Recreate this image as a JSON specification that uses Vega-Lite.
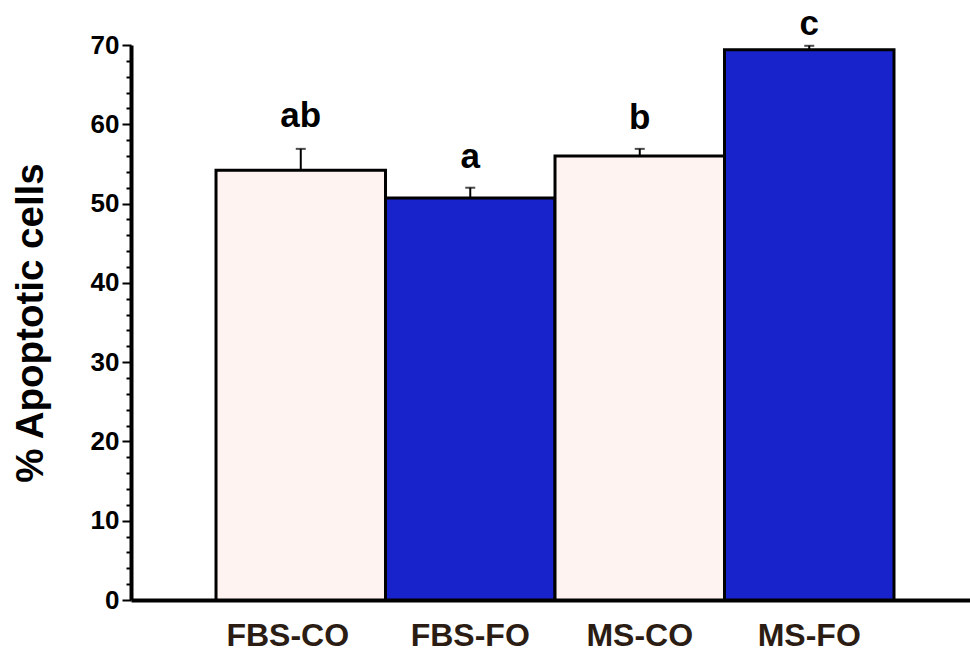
{
  "$schema": "https://vega.github.io/schema/vega-lite/v6.json",
  "autosize": "none",
  "padding": {"left": 131, "top": 45, "right": 0, "bottom": 52},
  "width": 839,
  "height": 555,
  "background": "white",
  "config": {"view": {"stroke": null}, "font": "Liberation Sans"},
  "data": {"values": [
    {"group": "FBS-CO", "value": 54.2, "err": 56.9, "sig": "ab", "sig_at": 59.6, "oil": "CO"},
    {"group": "FBS-FO", "value": 50.7, "err": 52.0, "sig": "a", "sig_at": 54.5, "oil": "FO"},
    {"group": "MS-CO", "value": 56.0, "err": 56.9, "sig": "b", "sig_at": 59.4, "oil": "CO"},
    {"group": "MS-FO", "value": 69.4, "err": 69.9, "sig": "c", "sig_at": 71.2, "oil": "FO"}
  ]},
  "encoding": {
    "x": {
      "field": "group", "type": "nominal", "sort": null,
      "scale": {"paddingInner": 0, "paddingOuter": 0.475, "align": 0.528},
      "axis": {
        "title": null, "labelAngle": 0, "ticks": false,
        "domainWidth": 4, "domainColor": "black",
        "labelFont": "Liberation Sans", "labelFontWeight": "bold", "labelFontSize": 32,
        "labelColor": "#2b1d14", "labelPadding": 20,
        "labelOffset": {"condition": {"test": "datum.value === 'FBS-CO'", "value": -13}, "value": 0}
      }
    },
    "y": {
      "field": "value", "type": "quantitative",
      "scale": {"domain": [0, 70], "nice": false},
      "axis": {
        "tickCount": 35,
        "labelExpr": "datum.value % 10 === 0 ? datum.label : ''",
        "labelOverlap": false,
        "labelBound": false,
        "labelFlush": false,
        "tickSize": {"condition": {"test": "datum.value % 10 === 0", "value": 9}, "value": 5},
        "tickWidth": 2, "tickColor": "black",
        "domainWidth": 4, "domainColor": "black",
        "grid": false,
        "labelFont": "Liberation Sans", "labelFontWeight": "bold", "labelFontSize": 26,
        "labelColor": "black", "labelPadding": 3,
        "title": "% Apoptotic cells",
        "titleFont": "Liberation Sans", "titleFontWeight": "bold", "titleFontSize": 38.5,
        "titleColor": "black", "titlePadding": 40
      }
    }
  },
  "layer": [
    {
      "mark": {"type": "bar", "stroke": "black", "strokeWidth": 3},
      "encoding": {
        "fill": {
          "field": "oil", "type": "nominal",
          "scale": {"domain": ["CO", "FO"], "range": ["#fff3f1", "#1923cb"]},
          "legend": null
        }
      }
    },
    {
      "mark": {"type": "rule", "color": "black", "strokeWidth": 2},
      "encoding": {
        "y2": {"field": "err"}
      }
    },
    {
      "mark": {"type": "tick", "color": "black", "thickness": 2, "size": 10},
      "encoding": {
        "y": {"field": "err", "type": "quantitative"}
      }
    },
    {
      "mark": {"type": "text", "font": "Liberation Sans", "fontWeight": "bold", "fontSize": 35, "baseline": "alphabetic", "color": "black"},
      "encoding": {
        "y": {"field": "sig_at", "type": "quantitative"},
        "text": {"field": "sig"}
      }
    }
  ]
}
